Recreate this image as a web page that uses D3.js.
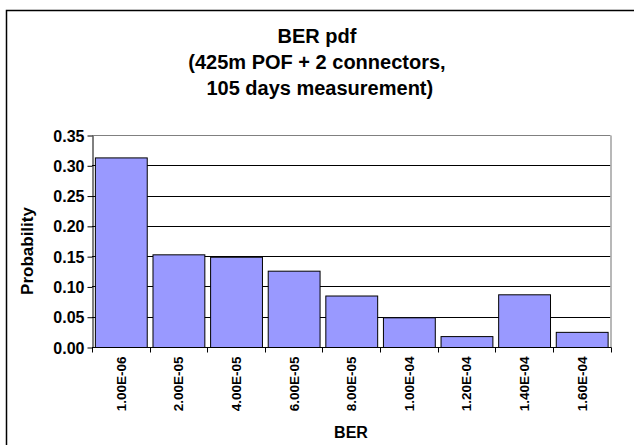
<!DOCTYPE html>
<html><head><meta charset="utf-8">
<script src="https://cdn.jsdelivr.net/npm/d3@7"></script>
<style>body{margin:0;background:#fff;} svg{display:block;}</style>
</head><body>
<script>
const categories = ["1.00E-06","2.00E-05","4.00E-05","6.00E-05","8.00E-05","1.00E-04","1.20E-04","1.40E-04","1.60E-04"];
const probability = [0.313, 0.153, 0.149, 0.126, 0.085, 0.049, 0.018, 0.087, 0.025];
const yTicks = [0, 0.05, 0.10, 0.15, 0.20, 0.25, 0.30, 0.35];
const titleLines = ["BER pdf", "(425m POF + 2 connectors,", " 105 days measurement)"];

const W = 634, H = 445;
const svg = d3.select("body").append("svg").attr("width", W).attr("height", H);
const font = "Arial, 'Liberation Sans', sans-serif";

// outer chart border
svg.append("rect").attr("x", 6.5).attr("y", 10.5).attr("width", 700).attr("height", 500)
  .attr("fill", "none").attr("stroke", "#000").attr("stroke-width", 1.5);

const L = 92, R = 610.5, T = 135, B = 347;
const x = d3.scaleBand().domain(categories).range([L, R]).paddingInner(0.1).paddingOuter(0.05);
const xb = d3.scaleBand().domain(categories).range([L, R]);
const y = d3.scaleLinear().domain([0, 0.35]).range([B, T]);

// gridlines
svg.append("g").selectAll("line").data(yTicks.filter(d => d > 0)).join("line")
  .attr("x1", L).attr("x2", R).attr("y1", d => Math.round(y(d)) + 0.5).attr("y2", d => Math.round(y(d)) + 0.5)
  .attr("stroke", d => d === 0.35 ? "#808080" : "#000").attr("stroke-width", 1);
// right border of plot area
svg.append("line").attr("x1", R + 0.5).attr("x2", R + 0.5).attr("y1", T + 0.5).attr("y2", B)
  .attr("stroke", "#a0a0a0").attr("stroke-width", 1.5);

// bars
svg.append("g").selectAll("rect").data(probability).join("rect")
  .attr("x", (d, i) => x(categories[i]) + 0.5)
  .attr("y", d => y(d) + 0.5)
  .attr("width", x.bandwidth())
  .attr("height", d => B - y(d))
  .attr("fill", "#9999FF").attr("stroke", "#000").attr("stroke-width", 1);

// y axis
const yAxis = d3.axisLeft(y).tickValues(yTicks).tickFormat(d3.format(".2f")).tickSize(5).tickSizeOuter(0);
const gy = svg.append("g").attr("transform", `translate(${L + 0.5},0.5)`).call(yAxis);
gy.select(".domain").attr("stroke", "#000");
gy.selectAll(".tick line").attr("stroke", "#000");
gy.selectAll(".tick text").attr("font-family", font).attr("font-weight", "bold").attr("font-size", "16px").attr("fill", "#000").attr("x", -8).attr("dy", "0.35em");

// x axis
const gx = svg.append("g").attr("transform", `translate(0,${B + 0.5})`);
gx.append("line").attr("x1", L).attr("x2", R + 1).attr("y1", 0).attr("y2", 0).attr("stroke", "#000");
const bounds = categories.map(c => xb(c)).concat([R]);
gx.selectAll("line.tk").data(bounds).join("line").attr("class", "tk")
  .attr("x1", d => Math.round(d) + 0.5).attr("x2", d => Math.round(d) + 0.5).attr("y1", 0).attr("y2", 5).attr("stroke", "#000");
gx.selectAll("text").data(categories).join("text")
  .attr("transform", d => `translate(${xb(d) + xb.bandwidth() / 2 + 5},9) rotate(-90)`)
  .attr("text-anchor", "end")
  .attr("font-family", font).attr("font-weight", "bold").attr("font-size", "13.5px")
  .text(d => d);

// axis titles
svg.append("text").attr("x", 351).attr("y", 438).attr("text-anchor", "middle")
  .attr("font-family", font).attr("font-weight", "bold").attr("font-size", "16px").text("BER");
svg.append("text").attr("transform", `translate(33,${(T + B) / 2 + 10}) rotate(-90)`).attr("text-anchor", "middle")
  .attr("font-family", font).attr("font-weight", "bold").attr("font-size", "17px").text("Probability");

// title
svg.append("g").selectAll("text").data(titleLines).join("text")
  .attr("x", 317).attr("y", (d, i) => 43 + i * 26).attr("text-anchor", "middle")
  .attr("font-family", font).attr("font-weight", "bold").attr("font-size", "20px")
  .style("white-space", "pre")
  .text(d => d);
</script>
</body></html>
